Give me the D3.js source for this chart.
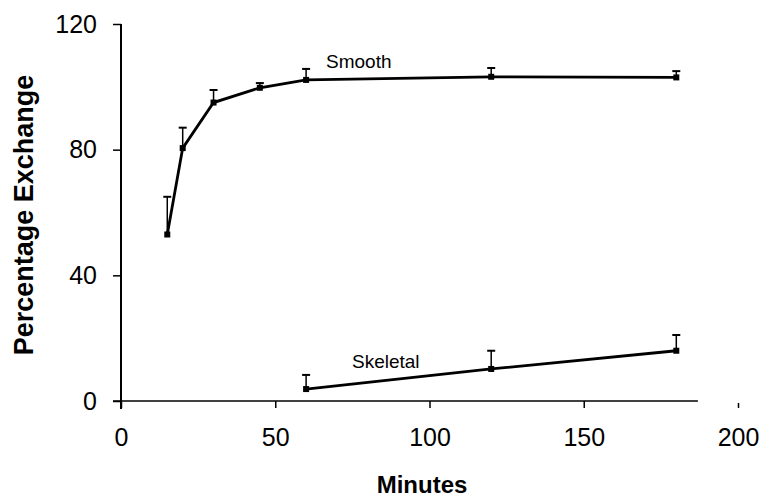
<!DOCTYPE html>
<html><head><meta charset="utf-8">
<script src="https://cdn.jsdelivr.net/npm/d3@7"></script>
<style>body{margin:0;background:#fff}svg{display:block}text{font-family:"Liberation Sans",Arial,sans-serif}</style>
</head><body><svg id="c" width="765" height="500"></svg>
<script>
const xTicks = [0, 50, 100, 150, 200];
const yTicks = [0, 40, 80, 120];
const smoothX = [15, 20, 30, 45, 60, 120, 180];
const smoothY = [53, 80.5, 95, 99.7, 102.2, 103.2, 103];
const smoothErr = [12, 6.5, 4, 1.5, 3.5, 2.8, 2];
const skeletalX = [60, 120, 180];
const skeletalY = [3.8, 10.2, 16];
const skeletalErr = [4.5, 5.8, 5];
const seriesNames = ["Smooth", "Skeletal"];

const svg = d3.select("#c");
const x = d3.scaleLinear().domain([0, 200]).range([121, 738]);
const y = d3.scaleLinear().domain([0, 120]).range([401, 24]);

// y axis
const ya = svg.append("g").attr("transform", `translate(${x(0)},0)`)
  .call(d3.axisLeft(y).tickValues(yTicks).tickSize(8).tickPadding(16).tickFormat(d3.format("d")));
ya.select(".domain").remove();
ya.append("line").attr("x1",0).attr("x2",0).attr("y1",y(120)).attr("y2",409).attr("stroke","#000").attr("stroke-width",2);
ya.selectAll(".tick line").attr("stroke-width",1.5);
ya.selectAll("text").attr("font-size",25).attr("fill","#000");

// x axis
const xa = svg.append("g").attr("transform", `translate(0,${y(0)})`)
  .call(d3.axisBottom(x).tickValues(xTicks).tickSize(7).tickPadding(20).tickFormat(d3.format("d")));
xa.select(".domain").remove();
xa.append("line").attr("x1",x(0)-8).attr("x2",x(187)).attr("y1",0).attr("y2",0).attr("stroke","#000").attr("stroke-width",1.5);
xa.selectAll(".tick line").attr("stroke-width",1.5);
xa.selectAll(".tick").filter(d=>d===200).select("line").attr("y1",2).attr("y2",7);
xa.selectAll("text").attr("font-size",25).attr("fill","#000");

function drawSeries(xs, ys, es) {
  const pts = xs.map((d,i)=>({x:d, y:ys[i], e:es[i]}));
  const g = svg.append("g");
  g.append("path").datum(pts)
    .attr("d", d3.line().x(d=>x(d.x)).y(d=>y(d.y)))
    .attr("fill","none").attr("stroke","#000").attr("stroke-width",2.8);
  g.selectAll(".eb").data(pts).enter().append("line")
    .attr("x1",d=>x(d.x)).attr("x2",d=>x(d.x)).attr("y1",d=>y(d.y)).attr("y2",d=>y(d.y+d.e))
    .attr("stroke","#000").attr("stroke-width",1.5);
  g.selectAll(".cap").data(pts).enter().append("line")
    .attr("x1",d=>x(d.x)-4).attr("x2",d=>x(d.x)+4).attr("y1",d=>y(d.y+d.e)).attr("y2",d=>y(d.y+d.e))
    .attr("stroke","#000").attr("stroke-width",2);
  g.selectAll(".mk").data(pts).enter().append("rect")
    .attr("x",d=>x(d.x)-3).attr("y",d=>y(d.y)-3).attr("width",6).attr("height",6).attr("fill","#000");
}
drawSeries(smoothX, smoothY, smoothErr);
drawSeries(skeletalX, skeletalY, skeletalErr);

svg.append("text").attr("x",326).attr("y",68).attr("font-size",19).text(seriesNames[0]);
svg.append("text").attr("x",352).attr("y",368).attr("font-size",19).text(seriesNames[1]);

svg.append("text").attr("x",422).attr("y",493).attr("text-anchor","middle")
  .attr("font-size",24).attr("font-weight","bold").text("Minutes");
svg.append("text").attr("transform","translate(33,215) rotate(-90)").attr("text-anchor","middle")
  .attr("font-size",27).attr("font-weight","bold").text("Percentage Exchange");
</script></body></html>
